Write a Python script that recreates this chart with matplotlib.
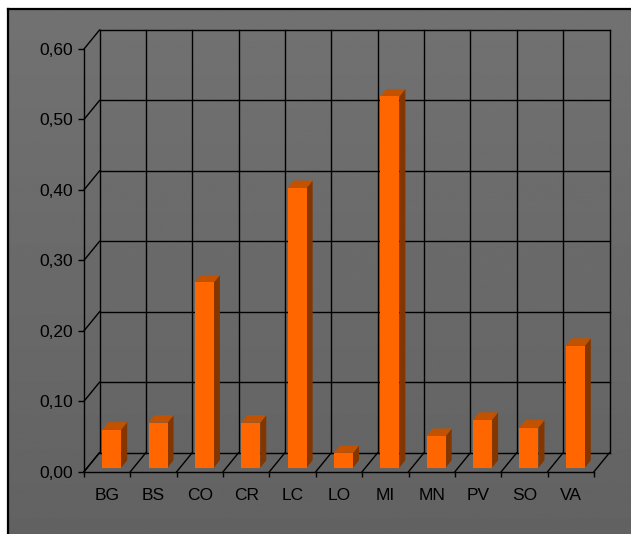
import numpy as np
import matplotlib.pyplot as plt
from matplotlib.patches import Polygon
from matplotlib.transforms import IdentityTransform

plt.rcParams['font.family'] = ['Liberation Sans', 'DejaVu Sans']

categories = ["BG", "BS", "CO", "CR", "LC", "LO", "MI", "MN", "PV", "SO", "VA"]
values = [0.054, 0.064, 0.263, 0.064, 0.397, 0.021, 0.527, 0.045, 0.068, 0.057, 0.173]
yticks = [0.0, 0.1, 0.2, 0.3, 0.4, 0.5, 0.6]
ytick_labels = ["0,00", "0,10", "0,20", "0,30", "0,40", "0,50", "0,60"]

W, H = 631, 534
fig = plt.figure(figsize=(W / 100, H / 100), dpi=100)

# grey panel behind the chart
bg = fig.add_axes([8 / W, 0, 1 - 8 / W, (H - 9) / H])
grad = np.linspace(0.445, 0.385, 256)[:, None]
bg.imshow(grad, cmap="gray", vmin=0, vmax=1, aspect="auto", extent=[0, 1, 0, 1])
bg.set_xticks([])
bg.set_yticks([])
for side in ["right", "bottom"]:
    bg.spines[side].set_visible(False)
for side in ["left", "top"]:
    bg.spines[side].set_linewidth(1.6)
    bg.spines[side].set_color("black")

# front plane of the chart
ax = fig.add_axes([84 / W, (H - 471.7) / H, 510 / W, (471.7 - 49) / H])
ax.patch.set_visible(False)
ax.set_xlim(-0.5, len(categories) - 0.5)
ax.set_ylim(0, 0.6)
ax.set_autoscale_on(False)

DX, DY = 15.5, 19.0        # wall depth in pixels
FX, FY = 4.5, 4.0          # bar front face offset
BX, BY = 10.5, 11.5        # bar back face offset
bw = 0.41

def proj(x, y, ox=0.0, oy=0.0):
    px, py = ax.transData.transform((x, y))
    return px + ox, py + oy

def seg(p, q, **kw):
    ax.plot([p[0], q[0]], [p[1], q[1]], color="black", lw=1.0,
            transform=IdentityTransform(), clip_on=False, zorder=1, **kw)

bounds = np.arange(len(categories) + 1) - 0.5
for v in yticks:
    seg(proj(bounds[0], v, DX, DY), proj(bounds[-1], v, DX, DY))
    seg(proj(bounds[0], v), proj(bounds[0], v, DX, DY))
for b in bounds:
    seg(proj(b, 0, DX, DY), proj(b, 0.6, DX, DY))
    seg(proj(b, 0), proj(b, 0, DX, DY))

# columns
for i, v in enumerate(values):
    xl, xr = i - bw / 2, i + bw / 2
    front = [proj(xl, 0, FX, FY), proj(xr, 0, FX, FY), proj(xr, v, FX, FY), proj(xl, v, FX, FY)]
    top = [proj(xl, v, FX, FY), proj(xr, v, FX, FY), proj(xr, v, BX, BY), proj(xl, v, BX, BY)]
    side = [proj(xr, 0, FX, FY), proj(xr, 0, BX, BY), proj(xr, v, BX, BY), proj(xr, v, FX, FY)]
    for pts, col in [(side, "#843600"), (top, "#C25200"), (front, "#FF6600")]:
        ax.add_patch(Polygon(pts, closed=True, facecolor=col, edgecolor="none",
                             transform=IdentityTransform(), clip_on=False, zorder=2))

for side in ["top", "right"]:
    ax.spines[side].set_visible(False)
for side in ["left", "bottom"]:
    ax.spines[side].set_linewidth(1.0)
    ax.spines[side].set_zorder(3)

ax.set_yticks(yticks)
ax.set_yticklabels(ytick_labels)
ax.set_xticks(range(len(categories)))
ax.set_xticklabels(categories)
ax.set_xticks(bounds, minor=True)
ax.tick_params(axis="y", direction="out", length=4.3, width=1.0, pad=3.6, labelsize=12.5)
ax.tick_params(axis="x", which="major", length=0, pad=11.5, labelsize=12.5)
ax.tick_params(axis="x", which="minor", direction="out", length=3.8, width=1.0)

fig.savefig("out.png", dpi=100)
